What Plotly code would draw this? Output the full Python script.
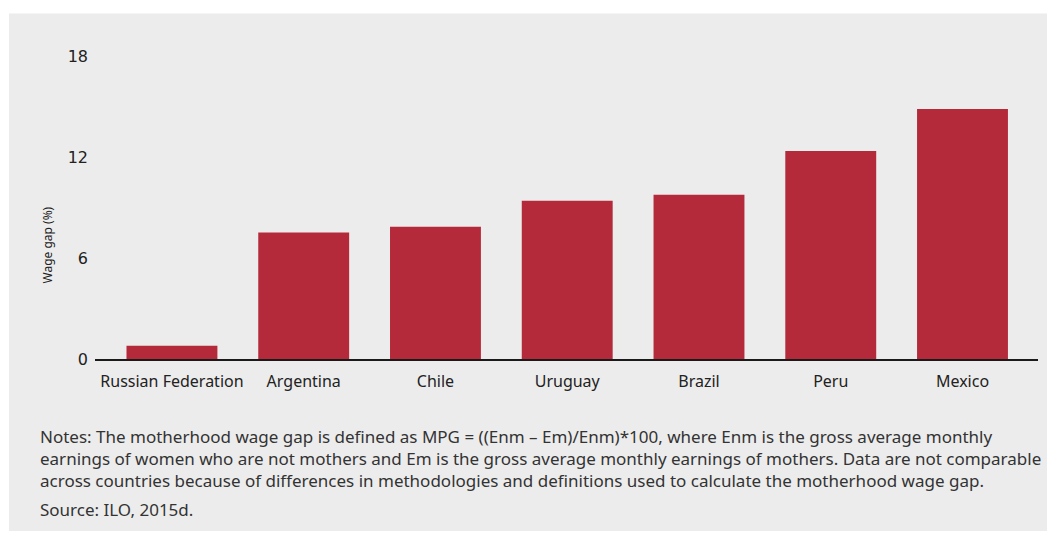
import plotly.graph_objects as go

countries = ["Russian Federation", "Argentina", "Chile", "Uruguay", "Brazil", "Peru", "Mexico"]
wage_gap = [0.79, 7.52, 7.87, 9.41, 9.77, 12.37, 14.86]
y_ticks = [0, 6, 12, 18]

note_lines = [
    "Notes: The motherhood wage gap is defined as MPG = ((Enm \u2013 Em)/Enm)*100, where Enm is the gross average monthly",
    "earnings of women who are not mothers and Em is the gross average monthly earnings of mothers. Data are not comparable",
    "across countries because of differences in methodologies and definitions used to calculate the motherhood wage gap.",
    "Source: ILO, 2015d.",
]

W, H = 1039, 523
BAR = "#b52a3b"
BG = "#ececec"
TXT = "#333333"

# observed page geometry: paper spans picture x 8..1047, y ~16.6..522.6
PX0, PW = 8.0, 1039.0
PY0, PH = 16.6, 506.0


def px(x):
    return (x - PX0) / PW


def py(y):
    return 1 - (y - PY0) / PH


fig = go.Figure(go.Bar(x=list(range(len(countries))), y=wage_gap, width=0.69,
                       marker=dict(color=BAR, line=dict(width=0))))

annotations = [
    dict(text="Wage gap (%)", textangle=-90, x=px(47), y=py(246),
         xref="paper", yref="paper", showarrow=False, xanchor="center", yanchor="middle",
         font=dict(family="Noto Sans", size=12, color="#222")),
]
for txt, yc in zip(note_lines, [438, 460, 482, 511]):
    annotations.append(dict(text=txt, x=px(38), y=py(yc), xref="paper", yref="paper",
                            showarrow=False, xanchor="left", yanchor="middle", align="left",
                            font=dict(family="Noto Sans", size=17, color=TXT)))

fig.update_layout(
    width=W, height=H,
    margin=dict(l=0, r=0, t=0, b=0),
    paper_bgcolor="white", plot_bgcolor=BG,
    showlegend=False,
    xaxis=dict(domain=[px(95), px(1038)], range=[-0.584, 6.573],
               tickmode="array", tickvals=list(range(len(countries))), ticktext=countries,
               showline=True, linecolor="#1a1a1a", linewidth=2, ticks="",
               showgrid=False, zeroline=False, ticklabelstandoff=7,
               tickfont=dict(family="Noto Sans", size=16, color="#222")),
    yaxis=dict(domain=[py(360), py(56)], range=[0, 18],
               tickmode="array", tickvals=y_ticks, ticktext=[str(v) for v in y_ticks],
               showgrid=False, zeroline=False, showline=False, ticks="",
               ticklabelstandoff=6,
               tickfont=dict(family="DejaVu Sans", size=16, color="#222")),
    shapes=[dict(type="rect", xref="paper", yref="paper", x0=px(9), x1=1.0,
                 y0=py(537), y1=py(13), fillcolor=BG, line=dict(width=0),
                 layer="below")],
    annotations=annotations,
)

fig.write_html("out.html")
